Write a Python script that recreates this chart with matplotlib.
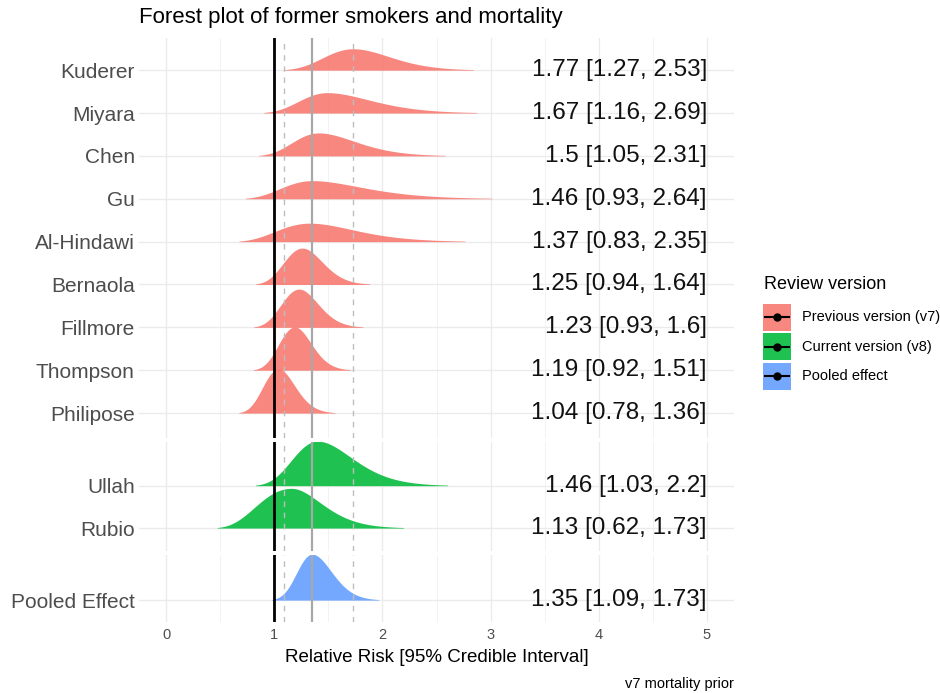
import numpy as np
import matplotlib
matplotlib.use("Agg")
import matplotlib.pyplot as plt
from matplotlib.patches import Rectangle
from matplotlib.lines import Line2D

# ---------------- data ----------------
studies_v7 = ["Kuderer", "Miyara", "Chen", "Gu", "Al-Hindawi", "Bernaola",
              "Fillmore", "Thompson", "Philipose"]
rr_v7 = [1.77, 1.67, 1.5, 1.46, 1.37, 1.25, 1.23, 1.19, 1.04]
lo_v7 = [1.27, 1.16, 1.05, 0.93, 0.83, 0.94, 0.93, 0.92, 0.78]
hi_v7 = [2.53, 2.69, 2.31, 2.64, 2.35, 1.64, 1.6, 1.51, 1.36]
# density peak (mode) positions
peak_v7 = [1.73, 1.49, 1.41, 1.35, 1.33, 1.26, 1.23, 1.19, 1.04]

studies_v8 = ["Ullah", "Rubio"]
rr_v8 = [1.46, 1.13]
lo_v8 = [1.03, 0.62]
hi_v8 = [2.2, 1.73]
peak_v8 = [1.40, 1.16]

studies_pool = ["Pooled Effect"]
rr_pool = [1.35]
lo_pool = [1.09]
hi_pool = [1.73]
peak_pool = [1.35]

null_value = 1.0
legend_labels = ["Previous version (v7)", "Current version (v8)", "Pooled effect"]
colors = ["#F8766D", "#00BA38", "#619CFF"]
x_ticks = [0, 1, 2, 3, 4, 5]

plt.rcParams["font.family"] = ["Liberation Sans", "DejaVu Sans"]

W, H = 940, 693
fig = plt.figure(figsize=(W / 100, H / 100), dpi=100)

left_px, right_px = 139, 734
top_px, bot_px = 38, 622
gs = fig.add_gridspec(3, 1, height_ratios=[400, 109, 67], hspace=0.021,
                      left=left_px / W, right=right_px / W,
                      top=1 - top_px / H, bottom=1 - bot_px / H)

groups = [
    (studies_v7, rr_v7, lo_v7, hi_v7, peak_v7, colors[0], 1.03, 0.58, 0.75),
    (studies_v8, rr_v8, lo_v8, hi_v8, peak_v8, colors[1], 1.05, 0.54, 1.03),
    (studies_pool, rr_pool, lo_pool, hi_pool, peak_pool, colors[2], 1.07, 0.51, 1.05),
]


def ridge(m, pk, lo, hi, n=600):
    lm, lp, ll, lh = np.log([m, pk, lo, hi])
    sl = (lm - ll) / 1.96
    sr = (lh - lm) / 1.96
    z = np.linspace(-3.2, 3.2, n)
    logx = np.where(z < 0, lp + z * sl, lp + z * sr)
    x = np.exp(logx)
    d = 2 / (np.sqrt(2 * np.pi) * (sl + sr)) * np.exp(-z ** 2 / 2) / pk
    return x, d


axes = []
for gi, (names, rr, lo, hi, pk, col, hmax, padb, padt) in enumerate(groups):
    ax = fig.add_subplot(gs[gi])
    axes.append(ax)
    n = len(names)
    ypos = np.arange(n)[::-1]
    curves = [ridge(m, p, l, h) for m, p, l, h in zip(rr, pk, lo, hi)]
    top = max(c[1].max() for c in curves)
    for (x, d), y0 in zip(curves, ypos):
        keep = d >= 0.012 * top
        ax.fill_between(x[keep], y0, y0 + d[keep] / top * hmax, color=col,
                        alpha=0.88, lw=0, zorder=2)
    for m, l, h, y0 in zip(rr, lo, hi, ypos):
        ax.text(5, y0, f"{m:g} [{l:g}, {h:g}]", ha="right", va="center",
                fontsize=17.5, color="#111111", zorder=5)
    ax.set_xlim(-0.25, 5.25)
    ax.set_ylim(-padb, (n - 1) + padt)
    ax.set_yticks(ypos)
    ax.set_yticklabels(names, fontsize=15, color="#4D4D4D")
    ax.set_xticks(x_ticks)
    ax.set_xticks(np.arange(0.5, 5, 1.0), minor=True)
    ax.grid(True, which="major", color="#EBEBEB", lw=1.0, zorder=0)
    ax.grid(True, which="minor", axis="x", color="#F2F2F2", lw=0.7, zorder=0)
    ax.set_axisbelow(True)
    for s in ax.spines.values():
        s.set_visible(False)
    ax.tick_params(axis="both", which="both", length=0, pad=4)
    ax.tick_params(axis="y", pad=3)
    # reference lines
    ax.axvline(null_value, color="black", lw=2.0, zorder=4)
    ax.axvline(rr_pool[0], color="#A8A8A8", lw=1.6, zorder=4)
    for v in (lo_pool[0], hi_pool[0]):
        ax.axvline(v, color="#BDBDBD", lw=1.0, ls=(0, (4, 4)), zorder=4)
    if gi < 2:
        ax.tick_params(axis="x", labelbottom=False)
    else:
        ax.set_xticklabels([str(t) for t in x_ticks], fontsize=10.5,
                           color="#4D4D4D")

axes[-1].set_xlabel("Relative Risk [95% Credible Interval]", fontsize=13.5,
                    labelpad=5)

fig.text(left_px / W, 1 - 18 / H, "Forest plot of former smokers and mortality",
         fontsize=16, ha="left", va="center")
fig.text(734 / W, 1 - 684 / H, "v7 mortality prior", fontsize=10.5,
         ha="right", va="center")

# legend (manual)
fig.text(764 / W, 1 - 285 / H, "Review version", fontsize=13, ha="left",
         va="center")
key_w, key_h = 28, 27
for i, (lab, col) in enumerate(zip(legend_labels, colors)):
    cy = 317 + i * 29.5
    fig.add_artist(Rectangle((763 / W, 1 - (cy + key_h / 2) / H), key_w / W,
                             key_h / H, transform=fig.transFigure,
                             facecolor=col, alpha=0.88, edgecolor="none"))
    fig.add_artist(Line2D([765 / W, 789 / W], [1 - cy / H, 1 - cy / H],
                          transform=fig.transFigure, color="black", lw=1.5))
    fig.add_artist(Line2D([777 / W], [1 - cy / H], transform=fig.transFigure,
                          color="black", marker="o", markersize=5))
    fig.text(802 / W, 1 - cy / H, lab, fontsize=10.5, ha="left", va="center")

fig.savefig("out.png", dpi=100)
